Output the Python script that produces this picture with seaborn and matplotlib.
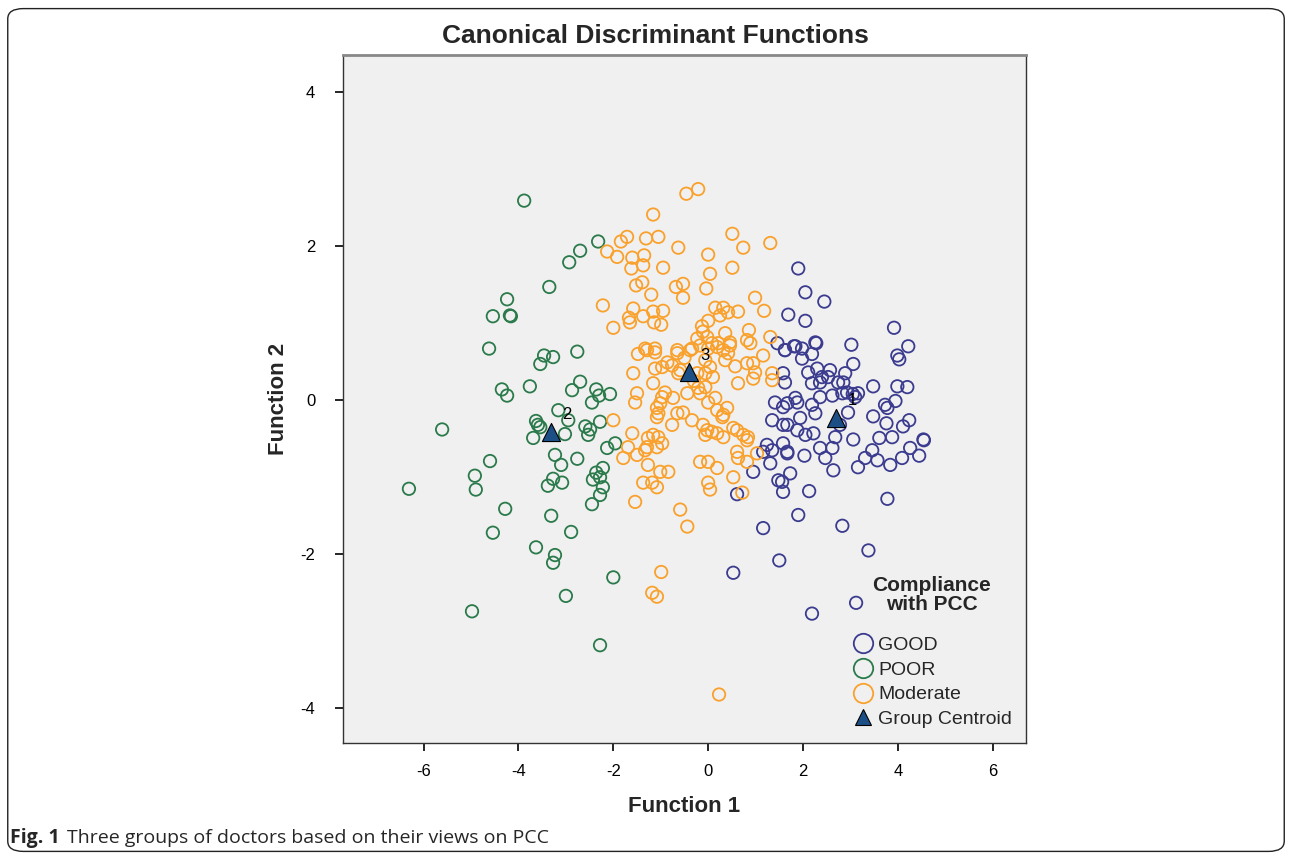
import matplotlib
matplotlib.use("Agg")
import matplotlib.pyplot as plt
import seaborn as sns
import pandas as pd
from matplotlib.lines import Line2D
from matplotlib.patches import FancyBboxPatch

# discriminant scores
good_x = [1.90, 2.05, 2.45, 1.69, 2.05, 3.92, 2.26, 3.02, 1.81, 1.98, 4.22, 3.99,
          4.03, 1.62, 1.84, 2.19, 1.98, 2.28, 3.06, 2.11, 2.30, 2.57, 2.89, 2.85,
          2.74, 2.53, 2.36, 2.19, 1.58, 1.62, 3.48, 3.99, 4.20, 2.62, 2.83, 2.36,
          3.16, 3.10, 3.95, 3.73, 3.78, 1.84, 1.67, 1.88, 2.19, 2.95, 1.94, 1.67,
          1.88, 2.05, 2.22, 2.26, 2.78, 2.68, 3.48, 3.76, 4.11, 4.24, 3.06, 3.61,
          3.88, 4.54, 3.46, 3.31, 3.16, 3.57, 3.84, 4.09, 4.26, 4.45, 2.36, 2.62,
          2.47, 1.67, 2.03, 2.64, 1.73, 1.56, 1.58, 2.13, 3.78, 1.90, 1.46, 1.62,
          1.41, 1.58, 1.35, 1.58, 1.24, 1.35, 1.16, 1.31, 1.58, 1.67, 0.95, 0.61,
          1.48, 1.16, 1.50, 0.53, 2.83, 3.38, 3.12, 2.19, 4.55, 2.93, 3.05, 2.40]
good_y = [1.71, 1.40, 1.28, 1.11, 1.03, 0.94, 0.75, 0.72, 0.70, 0.67, 0.70, 0.58,
          0.53, 0.65, 0.70, 0.60, 0.54, 0.74, 0.47, 0.36, 0.41, 0.39, 0.35, 0.23,
          0.23, 0.30, 0.23, 0.22, 0.35, 0.23, 0.18, 0.18, 0.17, 0.06, 0.09, 0.04,
          0.09, 0.04, -0.01, -0.06, -0.10, 0.03, -0.04, -0.03, -0.06, -0.16, -0.23, -0.32,
          -0.39, -0.45, -0.43, -0.17, -0.32, -0.48, -0.21, -0.30, -0.34, -0.26, -0.51, -0.49,
          -0.48, -0.51, -0.65, -0.75, -0.87, -0.78, -0.84, -0.75, -0.62, -0.72, -0.62, -0.62,
          -0.75, -0.67, -0.72, -0.91, -0.95, -1.06, -1.19, -1.18, -1.28, -1.49, 0.74, 0.65,
          -0.03, -0.09, -0.26, -0.32, -0.58, -0.65, -0.67, -0.82, -0.56, -0.69, -0.93, -1.22,
          -1.04, -1.66, -2.08, -2.24, -1.63, -1.95, -2.63, -2.77, -0.52, 0.10, 0.08, 0.30]

poor_x = [-3.88, -2.32, -2.70, -2.93, -3.35, -4.24, -4.54, -4.18, -4.16, -4.62, -2.76,
          -3.27, -3.46, -3.54, -3.76, -4.35, -4.24, -5.61, -6.31, -4.92, -4.90, -4.60,
          -4.28, -4.54, -4.98, -3.63, -3.23, -3.27, -3.31, -3.00, -2.89, -2.00, -2.28,
          -2.70, -2.87, -2.36, -2.30, -2.45, -3.16, -2.95, -3.63, -3.59, -3.54, -3.69,
          -3.02, -2.59, -2.49, -2.53, -2.28, -3.23, -3.10, -2.76, -3.27, -3.38, -3.08,
          -2.36, -2.43, -2.28, -2.45, -2.07, -1.96, -2.13, -2.22, -2.22, -2.28]
poor_y = [2.59, 2.06, 1.94, 1.79, 1.47, 1.31, 1.09, 1.10, 1.09, 0.67, 0.63,
          0.56, 0.58, 0.47, 0.18, 0.14, 0.06, -0.38, -1.15, -0.98, -1.16, -0.79,
          -1.41, -1.72, -2.74, -1.91, -2.01, -2.11, -1.50, -2.54, -1.71, -2.30, -3.18,
          0.24, 0.13, 0.14, 0.06, -0.03, -0.13, -0.26, -0.27, -0.32, -0.35, -0.49,
          -0.44, -0.34, -0.38, -0.45, -0.28, -0.71, -0.84, -0.76, -1.02, -1.11, -1.07,
          -0.94, -1.03, -1.00, -1.35, 0.08, -0.56, -0.62, -0.88, -1.13, -1.23]

moderate_x = [-0.46, -0.21, -1.16, -1.71, -1.84, -1.31, -1.05, -2.13, -1.92, -1.60,
              -1.35, -1.37, -1.62, -0.63, -0.95, 0.00, 0.04, 0.51, 0.74, 1.31,
              0.51, -1.52, -1.39, -1.20, -0.68, -0.53, -0.53, -0.04, -2.22, -2.00,
              -1.58, -1.67, -1.65, -1.37, -1.16, -0.95, -1.14, -0.99, 0.15, 0.32,
              0.25, 0.42, 0.63, 0.99, 1.18, 0.00, -0.13, -0.11, 0.36, -0.23,
              -0.02, 0.08, 0.21, 0.46, 0.86, 0.82, 0.89, 1.31, -1.33, -1.12,
              -0.65, -0.34, -1.48, -1.29, -1.12, -0.65, -0.86, -0.76, -0.97, -1.12,
              -1.58, -0.59, -0.63, -0.38, -0.17, 0.00, 0.19, 0.32, 0.46, 0.42,
              -0.06, 0.04, -0.06, -0.23, 0.36, 0.57, 0.82, 0.95, 0.99, 0.95,
              0.63, 1.16, 1.35, 1.35, -1.16, -0.91, -0.97, -1.01, -1.08, -1.50,
              -1.54, -1.05, -1.08, -0.74, -0.44, -0.21, -0.06, -0.17, 0.00, 0.15,
              0.19, 0.32, 0.30, 0.40, -0.65, -0.53, -0.34, -0.76, -0.11, -0.02,
              -0.06, 0.08, 0.19, 0.32, 0.53, 0.61, 0.74, 0.82, 0.84, -2.00,
              -1.60, -1.69, -1.79, -1.50, -1.33, -1.27, -1.16, -1.05, -0.97, -1.08,
              -1.29, -1.27, -1.01, -0.84, -1.37, -1.18, -1.08, -1.54, -0.17, 0.00,
              0.19, 0.00, 0.04, -0.59, 0.61, 0.63, 0.82, 1.03, 0.53, 0.72,
              -0.44, -0.99, -1.18, -1.08, 0.23, -0.50, -0.30, 0.10]
moderate_y = [2.68, 2.74, 2.41, 2.12, 2.06, 2.10, 2.12, 1.93, 1.86, 1.85,
              1.88, 1.75, 1.71, 1.98, 1.72, 1.89, 1.64, 2.16, 1.98, 2.04,
              1.72, 1.49, 1.53, 1.37, 1.47, 1.51, 1.33, 1.45, 1.23, 0.94,
              1.19, 1.07, 1.01, 1.09, 1.15, 1.16, 1.01, 0.98, 1.20, 1.20,
              1.10, 1.14, 1.15, 1.33, 1.16, 1.03, 0.96, 0.89, 0.87, 0.80,
              0.82, 0.74, 0.74, 0.75, 0.91, 0.78, 0.74, 0.82, 0.67, 0.67,
              0.65, 0.67, 0.60, 0.65, 0.62, 0.61, 0.49, 0.45, 0.43, 0.41,
              0.35, 0.39, 0.35, 0.65, 0.71, 0.67, 0.69, 0.65, 0.71, 0.61,
              0.52, 0.43, 0.35, 0.35, 0.52, 0.44, 0.48, 0.48, 0.36, 0.28,
              0.22, 0.58, 0.35, 0.26, 0.22, 0.10, 0.04, -0.04, -0.10, 0.09,
              -0.03, -0.17, -0.22, 0.03, 0.09, 0.16, 0.17, 0.09, -0.03, 0.03,
              -0.13, -0.19, -0.22, -0.10, -0.17, -0.16, -0.26, -0.32, -0.32, -0.39,
              -0.45, -0.41, -0.43, -0.48, -0.36, -0.39, -0.45, -0.52, -0.48, -0.26,
              -0.43, -0.61, -0.75, -0.71, -0.65, -0.49, -0.45, -0.48, -0.56, -0.61,
              -0.61, -0.84, -0.93, -0.93, -1.07, -1.07, -1.13, -1.32, -0.80, -0.80,
              -0.88, -1.07, -1.16, -1.42, -0.67, -0.75, -0.80, -0.69, -1.00, -1.20,
              -1.64, -2.23, -2.50, -2.55, -3.82, 0.55, 0.25, 0.30]

centroid_x = [2.70, -3.31, -0.40]
centroid_y = [-0.23, -0.41, 0.36]
centroid_lab = ["1", "2", "3"]

groups = ["GOOD", "POOR", "Moderate"]
colors = {"GOOD": "#3b3b8f", "POOR": "#2b7a4b", "Moderate": "#f9a12c"}
centroid_color = "#1c4f86"

frames = []
for g, xs, ys in [("GOOD", good_x, good_y), ("POOR", poor_x, poor_y),
                  ("Moderate", moderate_x, moderate_y)]:
    frames.append(pd.DataFrame({"f1": xs, "f2": ys, "group": g}))
df = pd.concat(frames, ignore_index=True)
cent = pd.DataFrame({"f1": centroid_x, "f2": centroid_y, "lab": centroid_lab})

sns.set_style("ticks")
plt.rcParams["font.family"] = ["Liberation Sans", "DejaVu Sans"]
plt.rcParams["axes.unicode_minus"] = False

fig = plt.figure(figsize=(12.92, 8.6), dpi=100)
ax = fig.add_axes([0.2655, 0.136, 0.5285, 0.800])
ax.set_facecolor("#f0f0f0")

for g in groups:
    sub = df[df["group"] == g]
    sns.scatterplot(data=sub, x="f1", y="f2", ax=ax, marker="o", s=80,
                    color=colors[g], facecolor="none", edgecolor=colors[g],
                    linewidth=1.3, legend=False)

sns.scatterplot(data=cent, x="f1", y="f2", ax=ax, marker="^", s=170,
                color=centroid_color, edgecolor="black", linewidth=0.8,
                legend=False, zorder=5)
for _, r in cent.iterrows():
    ax.annotate(r["lab"], (r["f1"], r["f2"]), xytext=(8, 9),
                textcoords="offset points", fontsize=12, color="black")

ax.set_xlim(-7.7, 6.7)
ax.set_ylim(-4.45, 4.48)
ax.set_xticks([-6, -4, -2, 0, 2, 4, 6])
ax.set_yticks([-4, -2, 0, 2, 4])
ax.tick_params(axis="both", direction="out", length=6, width=1.2,
               labelsize=12, colors="black")
ax.tick_params(axis="x", pad=9)
ax.tick_params(axis="y", pad=14)
for sp in ax.spines.values():
    sp.set_visible(True)
    sp.set_color("#333333")
    sp.set_linewidth(1.0)
ax.spines["top"].set_linewidth(2.0)
ax.spines["top"].set_color("#888888")

ax.set_xlabel("Function 1", fontsize=16, fontweight="bold", labelpad=12)
ax.set_ylabel("Function 2", fontsize=16, fontweight="bold", labelpad=8)
fig.text(0.507, 0.958, "Canonical Discriminant Functions", ha="center",
         va="center", fontsize=19, fontweight="bold")

handles = [Line2D([], [], ls="", marker="o", ms=14, mfc="none",
                  mec=colors[g], mew=1.3, label=g) for g in groups]
handles.append(Line2D([], [], ls="", marker="^", ms=12, mfc=centroid_color,
                      mec="black", mew=0.8, label="Group Centroid"))
leg = ax.legend(handles=handles, loc="lower right",
                bbox_to_anchor=(0.997, 0.005), frameon=False, fontsize=14,
                handletextpad=0.2, labelspacing=0.36, handlelength=1.2,
                borderaxespad=0.2)
ax.text(0.862, 0.215, "Compliance\nwith PCC", transform=ax.transAxes,
        ha="center", va="center", fontsize=15, fontweight="bold",
        linespacing=0.95)

# article frame and caption
frame = FancyBboxPatch((0.006, 0.01), 0.988, 0.98, transform=fig.transFigure,
                       boxstyle="round,pad=0,rounding_size=0.012",
                       fill=False, edgecolor="#222222", linewidth=1.0)
fig.patches.append(frame)
fig.text(0.0078, 0.026, "Fig. 1", ha="left", va="center", fontsize=14,
         fontweight="bold", family=["Open Sans", "DejaVu Sans"])
fig.text(0.0515, 0.026, "Three groups of doctors based on their views on PCC",
         ha="left", va="center", fontsize=14, family=["Open Sans", "DejaVu Sans"])

fig.savefig("out.png", dpi=100)
